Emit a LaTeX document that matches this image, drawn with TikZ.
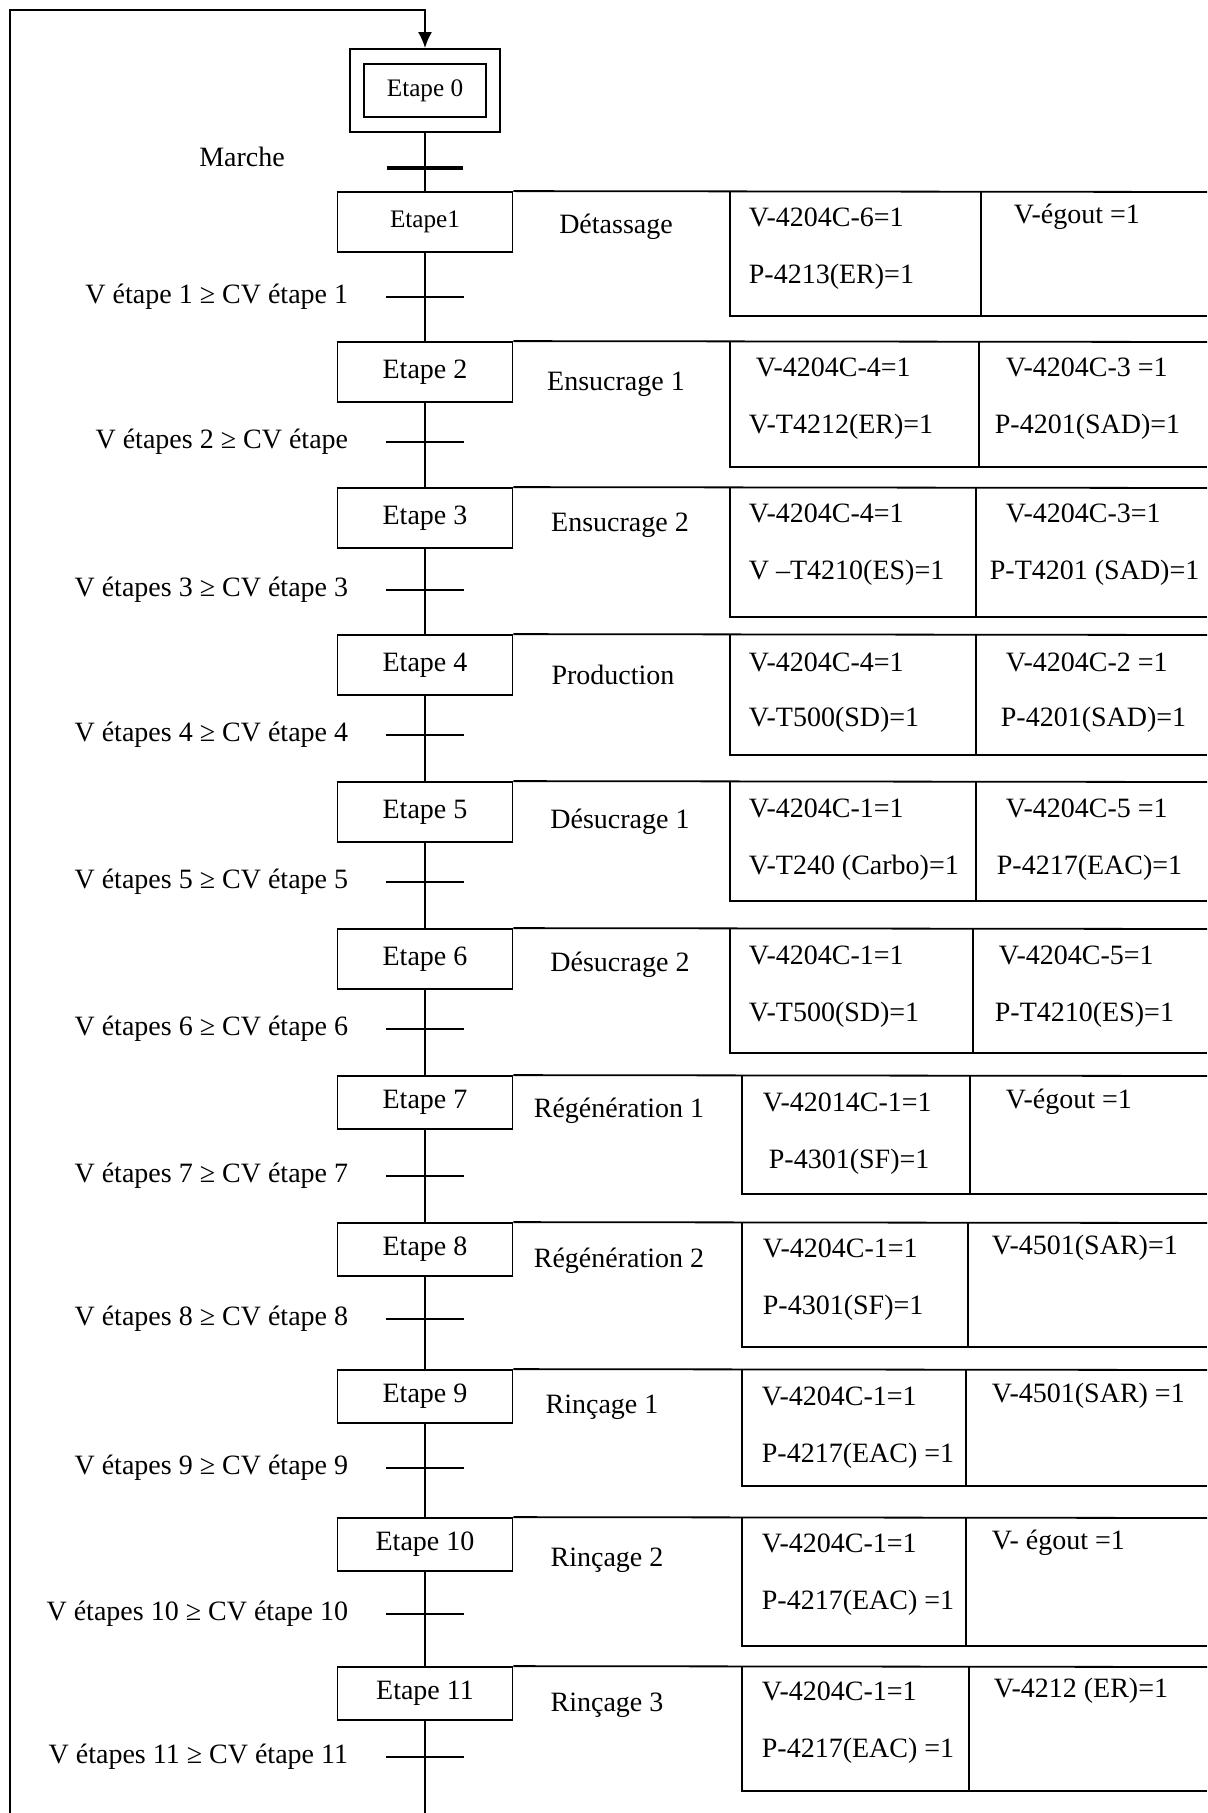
\documentclass[tikz,border=0pt]{standalone}
\usepackage{fontspec}
\setmainfont{Liberation Serif}
\usetikzlibrary{arrows.meta,positioning}

\begin{document}
\begin{tikzpicture}[x=0.5pt,y=-0.5pt,line width=0.9pt,
  font=\fontsize{14}{16}\selectfont,
  etape/.style={draw,minimum width=87.5pt,minimum height=30pt,inner sep=0pt},
  etapeb/.style={etape,minimum height=26.5pt},
  petit/.style={font=\fontsize{12.6}{14}\selectfont},
  act/.style={inner sep=0pt},
  cmd/.style={anchor=west,inner sep=0pt},
  cond/.style={inner sep=0pt,left=38pt of #1}]
\useasboundingbox (0,0) rectangle (1207,1813);

% etape initiale
\node[draw,minimum width=75pt,minimum height=41.5pt] (e0box) at (425,90.5) {};
\node[draw,minimum width=61pt,minimum height=26.5pt,petit] (e0) at (425,90.5) {Etape 0};
\coordinate (m) at (425,168);
\node (marche) at (242,157) {Marche};

% etapes
\node[etape,petit] (s1) at (425,222) {Etape1};
\node[etape] (s2) at (425,372) {Etape 2};
\node[etape] (s3) at (425,518) {Etape 3};
\node[etape] (s4) at (425,665) {Etape 4};
\node[etape] (s5) at (425,812) {Etape 5};
\node[etape] (s6) at (425,959) {Etape 6};
\node[etapeb] (s7) at (425,1102.5) {Etape 7};
\node[etapeb] (s8) at (425,1249.5) {Etape 8};
\node[etapeb] (s9) at (425,1396.5) {Etape 9};
\node[etapeb] (s10) at (425,1544.5) {Etape 10};
\node[etapeb] (s11) at (425,1693.5) {Etape 11};

% transitions
\coordinate (t1) at (425,297);
\coordinate (t2) at (425,442);
\coordinate (t3) at (425,590);
\coordinate (t4) at (425,735);
\coordinate (t5) at (425,882);
\coordinate (t6) at (425,1029);
\coordinate (t7) at (425,1176);
\coordinate (t8) at (425,1319);
\coordinate (t9) at (425,1468);
\coordinate (t10) at (425,1614);
\coordinate (t11) at (425,1757);
\coordinate (fin) at (425,1813);
\coordinate (bas) at (10,1813);
\coordinate (haut) at (10,10);

\draw (e0box) -- (m) -- (s1);
\foreach \a/\b in {1/2,2/3,3/4,4/5,5/6,6/7,7/8,8/9,9/10,10/11}
  \draw (s\a) -- (t\a) -- (s\b);
\draw (s11) -- (t11) -- (fin);
\draw[-{Latex[length=8pt,width=7pt]}] (bas) -- (haut) -| (e0box);
\draw[line width=2pt] (m) +(-38,0) -- +(38,0);
\foreach \i in {1,...,11}
  \draw (t\i) +(-39,0) -- +(39,0);

\node[cond=t1] (r1) {V étape 1 ≥ CV étape 1};
\node[cond=t2] (r2) {V étapes 2 ≥ CV étape};
\node[cond=t3] (r3) {V étapes 3 ≥ CV étape 3};
\node[cond=t4] (r4) {V étapes 4 ≥ CV étape 4};
\node[cond=t5] (r5) {V étapes 5 ≥ CV étape 5};
\node[cond=t6] (r6) {V étapes 6 ≥ CV étape 6};
\node[cond=t7] (r7) {V étapes 7 ≥ CV étape 7};
\node[cond=t8] (r8) {V étapes 8 ≥ CV étape 8};
\node[cond=t9] (r9) {V étapes 9 ≥ CV étape 9};
\node[cond=t10] (r10) {V étapes 10 ≥ CV étape 10};
\node[cond=t11] (r11) {V étapes 11 ≥ CV étape 11};

% actions
\foreach \i/\ya/\yb/\xl/\xd in {1/192/316/730/981, 2/342/467/730/979,
    3/488/617/730/976, 4/635/755/730/976, 5/782/901/730/976,
    6/929/1053/730/973, 7/1076/1194/742/970, 8/1223/1347/742/968,
    9/1370/1486/742/966, 10/1518/1646/742/966, 11/1667/1791/742/969}{
  \draw (s\i.north east) -- (1207,\ya);
  \draw (\xl,\ya) -- (\xl,\yb) -- (1207,\yb) (\xd,\ya) -- (\xd,\yb);
}

\node[act] (n1) at (616,227) {Détassage};
\node[cmd] (a1) at (748,217) {V-4204C-6=1};
\node[cmd] (b1) at (748,277) {P-4213(ER)=1};
\node[cmd] (c1) at (1013,217) {V-égout =1};

\node[act] (n2) at (616,384) {Ensucrage 1};
\node[cmd] (a2) at (755,367) {V-4204C-4=1};
\node[cmd] (b2) at (748,427) {V-T4212(ER)=1};
\node[cmd] (c2) at (1005,367) {V-4204C-3 =1};
\node[cmd] (d2) at (994,427) {P-4201(SAD)=1};

\node[act] (n3) at (620,525) {Ensucrage 2};
\node[cmd] (a3) at (748,513) {V-4204C-4=1};
\node[cmd] (b3) at (748,573) {V –T4210(ES)=1};
\node[cmd] (c3) at (1005,513) {V-4204C-3=1};
\node[cmd] (d3) at (989,573) {P-T4201 (SAD)=1};

\node[act] (n4) at (613,675) {Production};
\node[cmd] (a4) at (748,662) {V-4204C-4=1};
\node[cmd] (b4) at (748,720) {V-T500(SD)=1};
\node[cmd] (c4) at (1005,662) {V-4204C-2 =1};
\node[cmd] (d4) at (1000,720) {P-4201(SAD)=1};

\node[act] (n5) at (620,822) {Désucrage 1};
\node[cmd] (a5) at (748,808) {V-4204C-1=1};
\node[cmd] (b5) at (748,868) {V-T240 (Carbo)=1};
\node[cmd] (c5) at (1005,808) {V-4204C-5 =1};
\node[cmd] (d5) at (996,868) {P-4217(EAC)=1};

\node[act] (n6) at (620,965) {Désucrage 2};
\node[cmd] (a6) at (748,955) {V-4204C-1=1};
\node[cmd] (b6) at (748,1015) {V-T500(SD)=1};
\node[cmd] (c6) at (998,955) {V-4204C-5=1};
\node[cmd] (d6) at (994,1015) {P-T4210(ES)=1};

\node[act] (n7) at (619,1111) {Régénération 1};
\node[cmd] (a7) at (762,1102) {V-42014C-1=1};
\node[cmd] (b7) at (768,1162) {P-4301(SF)=1};
\node[cmd] (c7) at (1005,1102) {V-égout =1};

\node[act] (n8) at (619,1261) {Régénération 2};
\node[cmd] (a8) at (762,1248) {V-4204C-1=1};
\node[cmd] (b8) at (762,1308) {P-4301(SF)=1};
\node[cmd] (c8) at (991,1248) {V-4501(SAR)=1};

\node[act] (n9) at (602,1407) {Rinçage 1};
\node[cmd] (a9) at (761,1396) {V-4204C-1=1};
\node[cmd] (b9) at (761,1456) {P-4217(EAC) =1};
\node[cmd] (c9) at (991,1396) {V-4501(SAR) =1};

\node[act] (n10) at (607,1560) {Rinçage 2};
\node[cmd] (a10) at (761,1543) {V-4204C-1=1};
\node[cmd] (b10) at (761,1603) {P-4217(EAC) =1};
\node[cmd] (c10) at (991,1543) {V- égout =1};

\node[act] (n11) at (607,1705) {Rinçage 3};
\node[cmd] (a11) at (761,1691) {V-4204C-1=1};
\node[cmd] (b11) at (761,1751) {P-4217(EAC) =1};
\node[cmd] (c11) at (993,1691) {V-4212 (ER)=1};
\end{tikzpicture}
\end{document}
